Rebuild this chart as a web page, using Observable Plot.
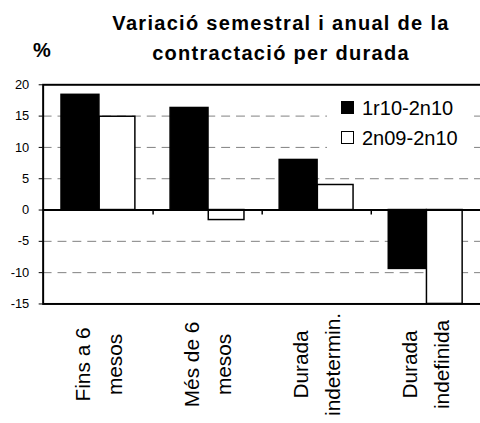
<!DOCTYPE html>
<html><head><meta charset="utf-8">
<script src="https://cdn.jsdelivr.net/npm/d3@7"></script>
<script src="https://cdn.jsdelivr.net/npm/@observablehq/plot@0.6"></script>
<style>
html,body{margin:0;padding:0;background:#fff;}
#wrap{position:relative;width:480px;height:423px;overflow:hidden;font-family:"Liberation Sans",Arial,sans-serif;color:#000;}
#wrap svg{display:block;position:absolute;left:0;top:0;}
#title{position:absolute;left:100px;top:8px;width:362px;text-align:center;font-weight:bold;font-size:20px;line-height:30px;letter-spacing:1.3px;white-space:nowrap;}
#pct{position:absolute;left:33px;top:40px;font-weight:bold;font-size:20px;line-height:20px;}
#legend{position:absolute;left:327px;top:92px;width:146px;height:80px;background:#fff;}
.row{position:absolute;left:35px;height:30px;line-height:30px;font-size:20px;white-space:nowrap;}
.sw{position:absolute;left:-21px;top:8px;width:13px;height:13px;box-sizing:border-box;}
</style>
</head><body>
<div id="wrap">
  <div id="title"></div>
  <div id="pct">%</div>
  <div id="legend"></div>
</div>
<script>
const titleLines = ["Variació semestral i anual de la", "contractació per durada"];
const categories = ["Fins a 6 mesos", "Més de 6 mesos", "Durada indetermin.", "Durada indefinida"];
const catLabels = ["Fins a 6\nmesos", "Més de 6\nmesos", "Durada\nindetermin.", "Durada\nindefinida"];
const seriesNames = ["1r10-2n10", "2n09-2n10"];
const s1 = [18.4, 16.3, 8.0, -9.4];
const s2 = [14.9, -1.6, 4.0, -15];
const yTicks = [-15, -10, -5, 0, 5, 10, 15, 20];
const gridTicks = [-10, -5, 5, 10, 15];

const W = 484, H = 423, mL = 43, mR = 0, mT = 85, mB = 117;
const bw = (W - mL - mR) / categories.length;
const d1 = categories.map((c, i) => ({cat: c, value: s1[i]}));
const d2 = categories.map((c, i) => ({cat: c, value: s2[i]}));

document.getElementById("title").innerHTML = titleLines.join("<br>");
const leg = document.getElementById("legend");
seriesNames.forEach((s, i) => {
  const row = document.createElement("div");
  row.className = "row";
  row.style.top = (i * 30 + 1) + "px";
  const sw = document.createElement("div");
  sw.className = "sw";
  sw.style.background = i === 0 ? "#000" : "#fff";
  sw.style.border = "1.5px solid #000";
  row.appendChild(sw);
  row.appendChild(document.createTextNode(s));
  leg.appendChild(row);
});

const chart = Plot.plot({
  width: W, height: H,
  marginLeft: mL, marginRight: mR, marginTop: mT, marginBottom: mB,
  x: {domain: categories, padding: 0, axis: null},
  y: {domain: [-15, 20], axis: null},
  style: {fontFamily: "Liberation Sans, Arial, sans-serif", fontSize: "13px", background: "white", color: "black"},
  marks: [
    Plot.ruleY(gridTicks, {stroke: "#808080", strokeDasharray: "9,6", strokeWidth: 1}),
    Plot.barY(d1, {x: "cat", y: "value", fill: "black", stroke: "black", strokeWidth: 1.5, insetLeft: 17.5, insetRight: bw - 56}),
    Plot.barY(d2, {x: "cat", y: "value", fill: "white", stroke: "black", strokeWidth: 1.5, insetLeft: 56, insetRight: 18}),
    Plot.ruleY([0], {stroke: "black", strokeWidth: 2}),
    Plot.ruleX(categories.slice(1), {x: d => d, y1: 0, y2: 0, insetBottom: -5, dx: -bw / 2, stroke: "black", strokeWidth: 1.5}),
    Plot.frame({stroke: "black", strokeWidth: 2, insetRight: -10}),
    Plot.axisY({ticks: yTicks, tickSize: 4, tickPadding: 10, tickFormat: d => String(d), fontSize: 13, label: null}),
    Plot.text(catLabels, {x: (d, i) => categories[i], text: d => d, frameAnchor: "bottom", rotate: -90, dx: -3, dy: 61, lineHeight: 1.52, lineAnchor: "middle", fontSize: 21, textAnchor: "middle", fill: "black"})
  ]
});
const wrap = document.getElementById("wrap");
wrap.insertBefore(chart, wrap.firstChild);
</script>
</body></html>
